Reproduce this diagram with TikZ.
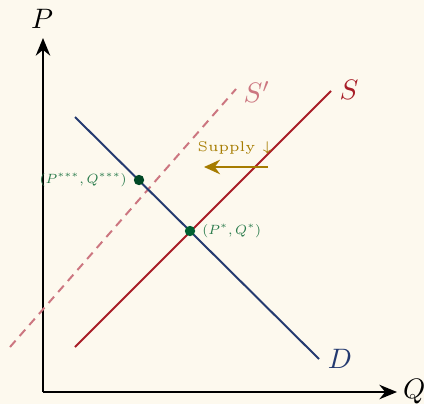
\documentclass[tikz,border=0pt]{standalone}
\usetikzlibrary{arrows.meta}
\definecolor{paper}{RGB}{253,249,238}
\definecolor{demblue}{RGB}{36,58,112}
\definecolor{supred}{RGB}{168,30,40}
\definecolor{shiftred}{RGB}{204,118,128}
\definecolor{eqgreen}{RGB}{40,122,74}
\definecolor{dotgreen}{RGB}{0,96,50}
\definecolor{shiftgold}{RGB}{166,124,0}

\begin{document}
\begin{tikzpicture}[x=0.0125cm,y=0.0125cm]
  \tikzstyle{ax}=[-{Stealth[length=2.2mm,width=1.8mm]},black,line width=0.8pt]
  \tikzstyle{curve}=[line width=0.7pt]
  \tikzstyle{eq}=[circle,fill=dotgreen,inner sep=0pt,minimum size=1.3mm]
  \tikzstyle{eqlab}=[text=eqgreen,font=\scriptsize,inner sep=1pt,scale=0.68,transform shape]
  \tikzstyle{shiftarrow}=[-{Stealth[length=2mm,width=1.8mm]},shiftgold,line width=0.9pt]

  \fill[paper] (0,0) rectangle (424,404);
  \useasboundingbox (0,0) rectangle (424,404);

  % axes
  \coordinate (O) at (43,12);
  \coordinate (ptop) at (43,366);
  \coordinate (qend) at (397,12);
  \draw[ax] (O) -- (ptop);
  \draw[ax] (O) -- (qend);
  \node (plab) at (42,385) {$P$};
  \node[right,inner sep=2pt] (qlab) at (qend) {$Q$};

  % curves
  \coordinate (s1) at (10,57);  \coordinate (s2) at (236,315);
  \coordinate (r1) at (75,57);  \coordinate (r2) at (331,313);
  \coordinate (d1) at (75,287); \coordinate (d2) at (319,45);
  \draw[curve,shiftred,dash pattern=on 3pt off 2.2pt] (s1) -- (s2);
  \draw[curve,supred] (r1) -- (r2);
  \draw[curve,demblue] (d1) -- (d2);
  \node[text=shiftred] (slab2) at (257,312) {$S'$};
  \node[text=supred] (slab) at (349,314) {$S$};
  \node[text=demblue] (dlab) at (340,45) {$D$};

  % equilibria
  \node[eq] (e1) at (190,173) {};
  \node[eq,fill=dotgreen!75!black] (e2) at (139,224) {};
  \node[eqlab,anchor=west] at ([xshift=1.5pt]e1.east) {$(P^{*},Q^{*})$};
  \node[eqlab,anchor=east] at ([xshift=-1.5pt]e2.west) {$(P^{***},Q^{***})$};

  % shift
  \coordinate (a1) at (268,237);
  \coordinate (a2) at (204,237);
  \draw[shiftarrow] (a1) -- (a2);
  \node[text=shiftgold,font=\fontsize{5}{6}\selectfont] (sup) at (235,256) {Supply $\downarrow$};
\end{tikzpicture}
\end{document}
